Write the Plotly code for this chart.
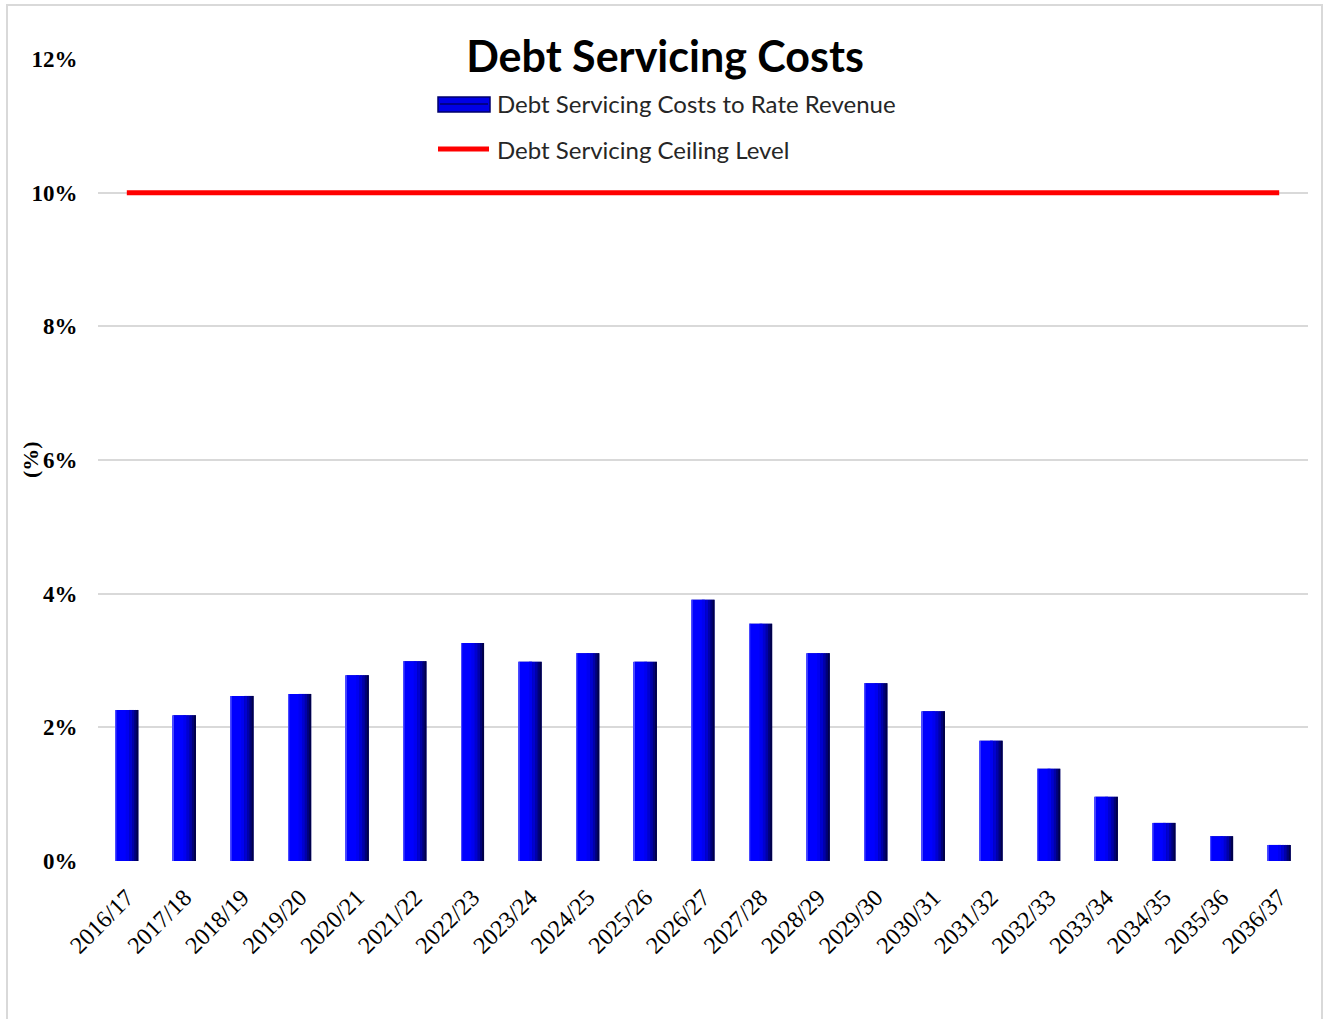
import plotly.graph_objects as go

# Financial years and debt servicing ratio (% of rate revenue)
years = ["2016/17", "2017/18", "2018/19", "2019/20", "2020/21", "2021/22", "2022/23",
         "2023/24", "2024/25", "2025/26", "2026/27", "2027/28", "2028/29", "2029/30",
         "2030/31", "2031/32", "2032/33", "2033/34", "2034/35", "2035/36", "2036/37"]
debt_ratio = [2.26, 2.18, 2.47, 2.50, 2.78, 2.99, 3.26, 2.98, 3.11, 2.98, 3.91,
              3.55, 3.11, 2.66, 2.24, 1.80, 1.38, 0.96, 0.57, 0.37, 0.24]
ceiling = [10.0] * len(years)

y_ticks = [0, 2, 4, 6, 8, 10, 12]
y_tick_text = ["0%", "2%", "4%", "6%", "8%", "10%", "12%"]

series_names = ["Debt Servicing Costs to Rate Revenue", "Debt Servicing Ceiling Level"]

BAR_W = 0.40

# plot-area geometry in pixels, used to place the hand-drawn legend
FIG_W, FIG_H = 1324, 1019
M_L, M_R, M_T, M_B = 98, 16, 59, 158
PLOT_W = FIG_W - M_L - M_R
PLOT_H = FIG_H - M_T - M_B


def px_x(px):
    return (px - M_L) / PLOT_W


def px_y(py):
    return (FIG_H - M_B - py) / PLOT_H


fig = go.Figure()

# Base bar (dark body)
fig.add_trace(go.Bar(
    x=years, y=debt_ratio, name=series_names[0],
    width=BAR_W, marker=dict(color="#00009a", line=dict(width=0)),
    showlegend=False,
))

# Vertical shading strips give the bars a bevelled, cylindrical look
strips = [
    (-0.200, 0.020, "#4a4aff"),
    (-0.180, 0.210, "#0000ff"),
    (-0.020, 0.060, "#0000f0"),
    (0.040, 0.050, "#0000d0"),
    (0.090, 0.040, "#0000a8"),
    (0.130, 0.035, "#000078"),
    (0.165, 0.035, "#00004a"),
]
for off, w, col in strips:
    fig.add_trace(go.Bar(
        x=years, y=debt_ratio, width=w, offset=off,
        marker=dict(color=col, line=dict(width=0)),
        showlegend=False, hoverinfo="skip",
    ))

# Ceiling line
fig.add_trace(go.Scatter(
    x=years, y=ceiling, mode="lines", name=series_names[1],
    line=dict(color="#ff0000", width=5), showlegend=False,
))

# Legend: swatches and labels
legend_font = dict(family="Lato", size=24, color="#262626")
shapes = [
    # outer chart border
    dict(type="rect", xref="paper", yref="paper",
         x0=px_x(7), x1=px_x(1322), y0=px_y(1030), y1=px_y(5),
         line=dict(color="#d9d9d9", width=2), fillcolor="rgba(0,0,0,0)", layer="below"),
    # bar swatch
    dict(type="rect", xref="paper", yref="paper",
         x0=px_x(438), x1=px_x(490), y0=px_y(112), y1=px_y(97),
         line=dict(color="#00006a", width=1.5), fillcolor="#0000e6"),
    dict(type="rect", xref="paper", yref="paper",
         x0=px_x(440), x1=px_x(488), y0=px_y(105), y1=px_y(103),
         line=dict(width=0), fillcolor="#00008a"),
    # line swatch
    dict(type="line", xref="paper", yref="paper",
         x0=px_x(438), x1=px_x(489), y0=px_y(149), y1=px_y(149),
         line=dict(color="#ff0000", width=5)),
]
annotations = [
    dict(text=series_names[0], xref="paper", yref="paper", x=px_x(495), y=px_y(103),
         xanchor="left", yanchor="middle", showarrow=False, font=legend_font),
    dict(text=series_names[1], xref="paper", yref="paper", x=px_x(495), y=px_y(149),
         xanchor="left", yanchor="middle", showarrow=False, font=legend_font),
    # y-axis title
    dict(text="<b>(%)</b>", xref="paper", yref="paper", x=px_x(30), y=px_y(460),
         xanchor="center", yanchor="middle", textangle=-90, showarrow=False,
         font=dict(family="Liberation Serif", size=22, color="#000000")),
]

fig.update_layout(
    width=FIG_W, height=FIG_H,
    paper_bgcolor="white", plot_bgcolor="white",
    barmode="overlay", bargap=0.6,
    margin=dict(l=M_L, r=M_R, t=M_T, b=M_B),
    title=dict(
        text="<b>Debt Servicing Costs</b>",
        font=dict(family="Lato", size=43, color="#000000"),
        x=665 / FIG_W, xanchor="center", xref="container",
        y=1 - 57 / FIG_H, yanchor="middle", yref="container",
    ),
    showlegend=False,
    font=dict(family="Liberation Serif"),
    shapes=shapes,
    annotations=annotations,
)

fig.update_yaxes(
    range=[0, 12], tickvals=y_ticks, ticktext=y_tick_text,
    showgrid=True, gridcolor="#d9d9d9", gridwidth=2,
    zeroline=False, showline=False,
    ticks="outside", ticklen=15, tickcolor="rgba(0,0,0,0)",
    tickfont=dict(family="Liberation Serif", size=23, color="#000000", weight="bold"),
)

fig.update_xaxes(
    type="category", tickangle=-45,
    showgrid=False, showline=False, zeroline=False,
    ticks="outside", ticklen=12, tickcolor="rgba(0,0,0,0)",
    tickfont=dict(family="Liberation Serif", size=24, color="#000000"),
)

fig.write_html("out.html")
